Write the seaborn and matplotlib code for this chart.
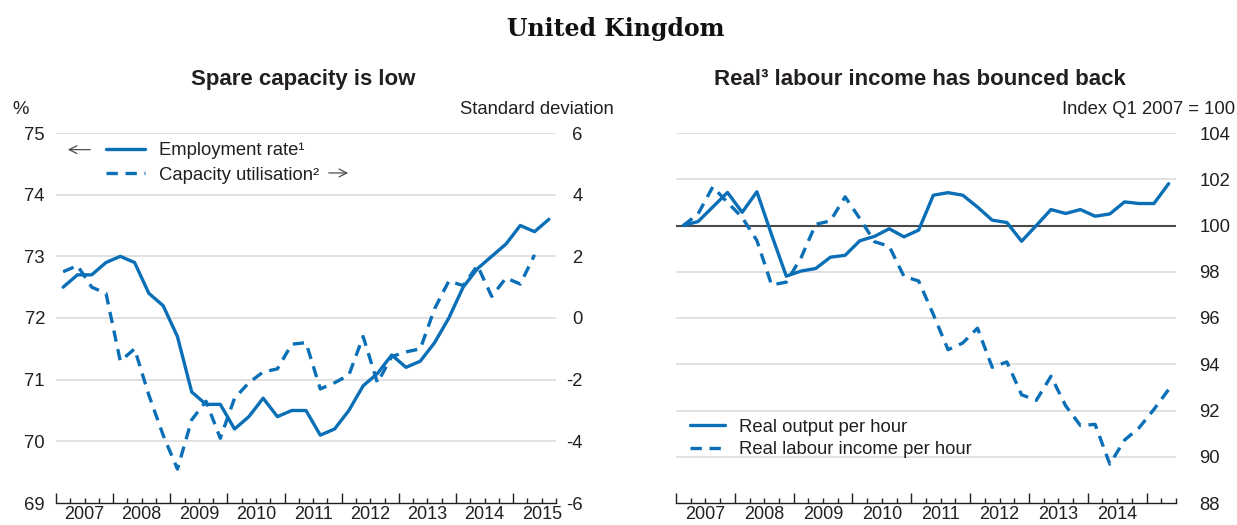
import numpy as np
import pandas as pd
import matplotlib
matplotlib.use("Agg")
import matplotlib.pyplot as plt
from matplotlib.ticker import MultipleLocator, FuncFormatter, NullFormatter
import seaborn as sns

# ---- data (quarterly, first observation 2007 Q1) ----
employment_rate = [72.5, 72.7, 72.7, 72.9, 73.0, 72.9, 72.4, 72.2, 71.7, 70.8,
                   70.6, 70.6, 70.2, 70.4, 70.7, 70.4, 70.5, 70.5, 70.1, 70.2,
                   70.5, 70.9, 71.1, 71.4, 71.2, 71.3, 71.6, 72.0, 72.5, 72.8,
                   73.0, 73.2, 73.5, 73.4, 73.6]
capacity_utilisation = [1.5, 1.7, 1.0, 0.8, -1.4, -1.0, -2.5, -3.8, -4.9, -3.3,
                        -2.7, -3.9, -2.6, -2.1, -1.75, -1.65, -0.85, -0.8, -2.3, -2.1,
                        -1.85, -0.6, -2.1, -1.25, -1.1, -1.0, 0.3, 1.2, 1.05, 1.7,
                        0.7, 1.3, 1.1, 2.05]
output_per_hour = [100.0, 100.17, 100.8, 101.43, 100.57, 101.46, 99.6, 97.81, 98.03, 98.14,
                   98.63, 98.71, 99.34, 99.53, 99.86, 99.51, 99.8, 101.31, 101.42, 101.31,
                   100.8, 100.23, 100.13, 99.32, 100.0, 100.69, 100.52, 100.69, 100.4, 100.5,
                   101.02, 100.95, 100.95, 101.81]
labour_income_per_hour = [100.0, 100.5, 101.67, 101.0, 100.35, 99.35, 97.43, 97.55, 98.6, 100.05,
                          100.2, 101.24, 100.3, 99.3, 99.1, 97.8, 97.6, 96.15, 94.63, 94.92,
                          95.56, 93.87, 94.1, 92.68, 92.44, 93.48, 92.2, 91.35, 91.4, 89.68,
                          90.72, 91.26, 92.05, 92.91]

left_year_labels = [2007, 2008, 2009, 2010, 2011, 2012, 2013, 2014, 2015]
right_year_labels = [2007, 2008, 2009, 2010, 2011, 2012, 2013, 2014]
left_ticks_pct = [69, 70, 71, 72, 73, 74, 75]
left_ticks_sd = [-6, -4, -2, 0, 2, 4, 6]
right_ticks_idx = [88, 90, 92, 94, 96, 98, 100, 102, 104]


def quarter_mid(n, start=2007.0):
    """Decimal-year position of the middle of each quarter."""
    return start + (np.arange(n) + 0.5) / 4.0


left_df = pd.DataFrame({"t": quarter_mid(len(employment_rate)), "emp": employment_rate})
cap_df = pd.DataFrame({"t": quarter_mid(len(capacity_utilisation)), "cap": capacity_utilisation})
right_df = pd.DataFrame({"t": quarter_mid(len(output_per_hour)),
                         "out": output_per_hour, "inc": labour_income_per_hour})

# ---- style ----
sns.set_theme(style="white")
plt.rcParams["font.family"] = ["Liberation Sans", "DejaVu Sans"]
plt.rcParams["axes.unicode_minus"] = False
TXT = "#231f20"
BLUE = "#0a6fb6"
GRID = "#dcdcdc"
FS = 13.3
LW = 2.4
DASH = (0, (3.4, 2.3))

W, H = 1237, 525
fig = plt.figure(figsize=(W / 100, H / 100), dpi=100)


def fx(x):
    return x / W


def fy(y):
    return 1 - y / H


def axes_rect(x0, x1, y0, y1):
    return [fx(x0), fy(y1), (x1 - x0) / W, (y1 - y0) / H]


def style_xaxis(ax, x_end, labels):
    ax.set_xlim(2007, x_end)
    ax.xaxis.set_major_locator(MultipleLocator(1))
    ax.xaxis.set_major_formatter(NullFormatter())
    ax.xaxis.set_minor_locator(MultipleLocator(0.25))
    lab = set(labels)

    def fmt(v, pos):
        yr = int(np.floor(v + 1e-6))
        if abs(v - yr - 0.5) < 1e-6 and yr in lab:
            return str(yr)
        return ""
    ax.xaxis.set_minor_formatter(FuncFormatter(fmt))
    ax.tick_params(axis="x", which="major", direction="in", length=7, width=1.0,
                   color=TXT, bottom=True)
    ax.tick_params(axis="x", which="minor", direction="in", length=3.5, width=1.0,
                   color=TXT, bottom=True, labelsize=13, labelcolor=TXT, pad=2)
    for s in ["top", "left", "right"]:
        ax.spines[s].set_visible(False)
    ax.spines["bottom"].set_color(TXT)
    ax.spines["bottom"].set_linewidth(1.0)


# ---- left panel ----
axL = fig.add_axes(axes_rect(56, 556, 133, 503))
axL.set_facecolor("none")
style_xaxis(axL, 2015.75, left_year_labels)
axL.set_ylim(69, 75)
axL.set_yticks(left_ticks_pct)
axL.tick_params(axis="y", length=0, labelsize=FS, labelcolor=TXT, pad=8)
for v in left_ticks_pct[1:]:
    axL.axhline(v, color=GRID, lw=1.2, zorder=0)

axR2 = axL.twinx()
axR2.set_ylim(-6, 6)
axR2.set_yticks(left_ticks_sd)
axR2.tick_params(axis="y", length=0, labelsize=FS, labelcolor=TXT, pad=19)
for s in ["top", "left", "right", "bottom"]:
    axR2.spines[s].set_visible(False)

sns.lineplot(data=left_df, x="t", y="emp", ax=axL, color=BLUE, linewidth=LW,
             label="Employment rate\u00b9", legend=False, zorder=3)
sns.lineplot(data=cap_df, x="t", y="cap", ax=axR2, color=BLUE, linewidth=LW,
             linestyle=DASH, label="Capacity utilisation\u00b2", legend=False, zorder=3)
axL.set_xlabel("")
axL.set_ylabel("")
axR2.set_ylabel("")
axR2.set_xlabel("")
for lbl in axR2.get_yticklabels():
    lbl.set_horizontalalignment("right")

h_emp = [l for l in axL.get_lines() if l.get_label().startswith("Employment")][0]
h_cap = [l for l in axR2.get_lines() if l.get_label().startswith("Capacity")][0]
legL = axR2.legend([h_emp, h_cap], [h_emp.get_label(), h_cap.get_label()],
                   loc="upper left", bbox_to_anchor=(0.1, 0.975), frameon=False,
                   fontsize=FS, handlelength=2.1, handletextpad=0.75,
                   labelspacing=0.4, borderpad=0, borderaxespad=0)
for t in legL.get_texts():
    t.set_color(TXT)

arrow_kw = dict(arrowstyle="->", color="#4d4d4d", lw=0.9, mutation_scale=14)
axL.annotate("", xy=(0.018, 0.955), xytext=(0.074, 0.955),
             xycoords="axes fraction", arrowprops=arrow_kw)
axL.annotate("", xy=(0.59, 0.892), xytext=(0.54, 0.892),
             xycoords="axes fraction", arrowprops=arrow_kw)

# ---- right panel ----
axP = fig.add_axes(axes_rect(676, 1176, 133, 503))
axP.set_facecolor("none")
style_xaxis(axP, 2015.5, right_year_labels)
axP.set_ylim(88, 104)
axP.set_yticks(right_ticks_idx)
axP.yaxis.tick_right()
axP.tick_params(axis="y", length=0, labelsize=FS, labelcolor=TXT, pad=17,
                left=False, right=False, labelleft=False, labelright=True)
for v in right_ticks_idx[1:]:
    if v == 100:
        axP.axhline(v, color="#4a4a4a", lw=1.5, zorder=1)
    else:
        axP.axhline(v, color=GRID, lw=1.2, zorder=0)

sns.lineplot(data=right_df, x="t", y="out", ax=axP, color=BLUE, linewidth=LW,
             label="Real output per hour", legend=False, zorder=3)
sns.lineplot(data=right_df, x="t", y="inc", ax=axP, color=BLUE, linewidth=LW,
             linestyle=DASH, label="Real labour income per hour", legend=False, zorder=3)
axP.set_xlabel("")
axP.set_ylabel("")
legP = axP.legend(loc="upper left", bbox_to_anchor=(0.028, 0.228), frameon=False,
                  fontsize=FS, handlelength=1.9, handletextpad=0.75,
                  labelspacing=0.3, borderpad=0, borderaxespad=0)
for t in legP.get_texts():
    t.set_color(TXT)

# ---- titles and unit labels ----
fig.text(fx(616), fy(36), "United Kingdom", ha="center", va="baseline",
         fontsize=17, fontweight="bold", family=["DejaVu Serif"], color="#111111")
fig.text(fx(303), fy(85), "Spare capacity is low", ha="center", va="baseline",
         fontsize=16, fontweight="bold", color=TXT)
fig.text(fx(920), fy(85), "Real\u00b3 labour income has bounced back", ha="center",
         va="baseline", fontsize=16, fontweight="bold", color=TXT)
fig.text(fx(12), fy(114), "%", ha="left", va="baseline", fontsize=FS, color=TXT)
fig.text(fx(614), fy(114), "Standard deviation", ha="right", va="baseline",
         fontsize=FS, color=TXT)
fig.text(fx(1235), fy(114), "Index Q1 2007 = 100", ha="right", va="baseline",
         fontsize=FS, color=TXT)

fig.savefig("out.png", dpi=100)
